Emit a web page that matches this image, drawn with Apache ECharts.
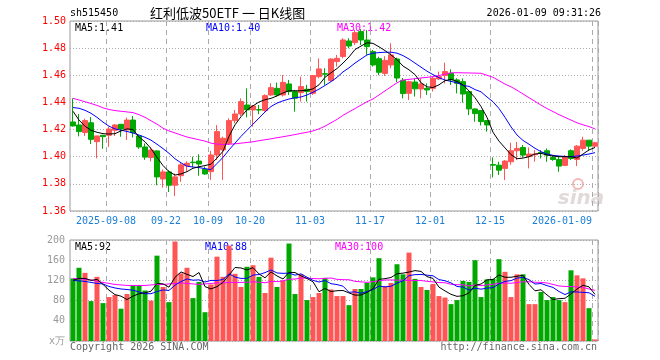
<!DOCTYPE html>
<html><head><meta charset="utf-8">
<script src="https://cdn.jsdelivr.net/npm/echarts@6/dist/echarts.min.js"></script>
<style>html,body{margin:0;padding:0;background:#fff}#c{width:660px;height:360px}</style>
</head><body><div id="c"></div>
<script>
const dates = [
'2025-08-29',
'2025-09-01','2025-09-02','2025-09-03','2025-09-04','2025-09-05',
'2025-09-08','2025-09-09','2025-09-10','2025-09-11','2025-09-12',
'2025-09-15','2025-09-16','2025-09-17','2025-09-18','2025-09-19',
'2025-09-22','2025-09-23','2025-09-24','2025-09-25','2025-09-26',
'2025-09-29','2025-09-30',
'2025-10-09','2025-10-10',
'2025-10-13','2025-10-14','2025-10-15','2025-10-16','2025-10-17',
'2025-10-20','2025-10-21','2025-10-22','2025-10-23','2025-10-24',
'2025-10-27','2025-10-28','2025-10-29','2025-10-30','2025-10-31',
'2025-11-03','2025-11-04','2025-11-05','2025-11-06','2025-11-07',
'2025-11-10','2025-11-11','2025-11-12','2025-11-13','2025-11-14',
'2025-11-17','2025-11-18','2025-11-19','2025-11-20','2025-11-21',
'2025-11-24','2025-11-25','2025-11-26','2025-11-27','2025-11-28',
'2025-12-01','2025-12-02','2025-12-03','2025-12-04','2025-12-05',
'2025-12-08','2025-12-09','2025-12-10','2025-12-11','2025-12-12',
'2025-12-15','2025-12-16','2025-12-17','2025-12-18','2025-12-19',
'2025-12-22','2025-12-23','2025-12-24','2025-12-25','2025-12-26',
'2025-12-29','2025-12-30','2025-12-31',
'2026-01-05','2026-01-06','2026-01-07','2026-01-08','2026-01-09'];

const tickDates = ['2025-09-08','2025-09-22','2025-10-09','2025-10-20','2025-11-03','2025-11-17','2025-12-01','2025-12-15','2026-01-09'];
const tickTexts = ['2025-09-08','09-22','10-09','10-20','11-03','11-17','12-01','12-15','2026-01-09'];

const opens = [1.4256,1.4234,1.4178,1.4250,1.4111,1.4158,1.4158,1.4195,1.4239,1.4197,
1.4270,1.4153,1.4072,1.3994,1.4043,1.3836,1.3888,1.3790,1.3860,1.3933,
1.3960,1.3968,1.3907,1.3890,1.4013,1.4050,1.4099,1.4266,1.4315,1.4381,
1.4345,1.4347,1.4340,1.4455,1.4504,1.4455,1.4536,1.4480,1.4472,1.4497,
1.4467,1.4590,1.4612,1.4561,1.4701,1.4738,1.4853,1.4841,1.4922,1.4860,
1.4774,1.4722,1.4614,1.4676,1.4720,1.4563,1.4467,1.4550,1.4499,1.4504,
1.4504,1.4573,1.4598,1.4615,1.4566,1.4553,1.4480,1.4352,1.4340,1.4266,
1.3942,1.3938,1.3914,1.3963,1.4044,1.4068,1.4000,1.4015,1.4031,1.4044,
1.3995,1.3980,1.3936,1.4044,1.3980,1.4061,1.4122,1.4078];
const closes = [1.4227,1.4185,1.4266,1.4128,1.4153,1.4148,1.4204,1.4234,1.4204,1.4270,
1.4177,1.4072,1.3997,1.4049,1.3851,1.3888,1.3790,1.3851,1.3940,1.3952,
1.3956,1.3946,1.3873,1.4013,1.4185,1.4136,1.4266,1.4315,1.4406,1.4345,
1.4374,1.4344,1.4450,1.4509,1.4455,1.4548,1.4480,1.4431,1.4517,1.4480,
1.4598,1.4647,1.4608,1.4720,1.4725,1.4860,1.4816,1.4914,1.4860,1.4811,
1.4676,1.4622,1.4710,1.4750,1.4580,1.4465,1.4553,1.4500,1.4536,1.4492,
1.4578,1.4590,1.4627,1.4566,1.4541,1.4462,1.4352,1.4318,1.4259,1.4234,
1.3938,1.3901,1.3968,1.4044,1.4061,1.4012,1.4020,1.4020,1.4027,1.4012,
1.3980,1.3931,1.3999,1.3987,1.4078,1.4122,1.4078,1.4103];
const lows = [1.4222,1.4150,1.4153,1.4094,1.3988,1.4058,1.4072,1.4152,1.4147,1.4123,
1.4142,1.4058,1.3977,1.3966,1.3790,1.3773,1.3740,1.3710,1.3815,1.3890,
1.3922,1.3860,1.3866,1.3829,1.3976,1.3829,1.4087,1.4246,1.4300,1.4290,
1.4222,1.4313,1.4332,1.4448,1.4443,1.4443,1.4455,1.4332,1.4406,1.4406,
1.4455,1.4578,1.4529,1.4553,1.4664,1.4725,1.4799,1.4823,1.4823,1.4750,
1.4664,1.4600,1.4595,1.4652,1.4550,1.4430,1.4418,1.4443,1.4430,1.4455,
1.4480,1.4565,1.4540,1.4529,1.4467,1.4399,1.4307,1.4258,1.4230,1.4185,
1.3847,1.3865,1.3828,1.3941,1.3975,1.3995,1.3914,1.3963,1.3987,1.3963,
1.3970,1.3889,1.3931,1.3975,1.3931,1.4044,1.4044,1.4068];
const highs = [1.4430,1.4315,1.4280,1.4292,1.4155,1.4160,1.4222,1.4240,1.4240,1.4288,
1.4300,1.4158,1.4098,1.4072,1.4046,1.3905,1.3900,1.3876,1.3952,1.3966,
1.4000,1.4018,1.3927,1.4043,1.4233,1.4148,1.4283,1.4345,1.4430,1.4504,
1.4381,1.4381,1.4460,1.4541,1.4546,1.4602,1.4566,1.4492,1.4590,1.4529,
1.4600,1.4725,1.4652,1.4725,1.4750,1.4873,1.4873,1.4934,1.4940,1.4934,
1.4787,1.4737,1.4740,1.4836,1.4730,1.4580,1.4560,1.4577,1.4578,1.4540,
1.4590,1.4627,1.4693,1.4644,1.4578,1.4577,1.4480,1.4356,1.4344,1.4266,
1.3995,1.3963,1.3975,1.4103,1.4110,1.4086,1.4068,1.4049,1.4049,1.4061,
1.4012,1.4000,1.4012,1.4054,1.4086,1.4147,1.4122,1.4110];

const ma5 = [1.4335,1.4270,1.4225,1.4195,1.4180,1.4170,1.4167,1.4170,1.4190,1.4205,
1.4200,1.4145,1.4110,1.4060,1.3995,1.3935,1.3890,1.3865,1.3873,1.3890,
1.3915,1.3926,1.3935,1.3945,1.3990,1.4040,1.4150,1.4235,1.4295,1.4345,
1.4375,1.4403,1.4420,1.4430,1.4448,1.4470,1.4486,1.4486,1.4486,1.4490,
1.4500,1.4530,1.4585,1.4618,1.4650,1.4690,1.4735,1.4790,1.4815,1.4840,
1.4835,1.4810,1.4782,1.4750,1.4715,1.4668,1.4640,1.4605,1.4545,1.4515,
1.4510,1.4530,1.4560,1.4570,1.4555,1.4530,1.4485,1.4435,1.4370,1.4290,
1.4180,1.4115,1.4065,1.4015,1.3985,1.3990,1.4000,1.4020,1.4025,1.4013,
1.4005,1.4000,1.4000,1.4000,1.3990,1.4020,1.4050,1.4068];
const ma10 = [1.4362,1.4357,1.4342,1.4320,1.4290,1.4255,1.4225,1.4205,1.4195,1.4186,
1.4175,1.4160,1.4143,1.4122,1.4092,1.4060,1.4025,1.3985,1.3955,1.3930,
1.3924,1.3920,1.3912,1.3905,1.3950,1.3995,1.4050,1.4100,1.4150,1.4195,
1.4240,1.4285,1.4330,1.4370,1.4395,1.4412,1.4425,1.4435,1.4440,1.4455,
1.4475,1.4498,1.4525,1.4553,1.4585,1.4625,1.4655,1.4690,1.4720,1.4750,
1.4763,1.4767,1.4770,1.4770,1.4763,1.4745,1.4720,1.4690,1.4660,1.4630,
1.4605,1.4582,1.4565,1.4555,1.4545,1.4525,1.4518,1.4495,1.4478,1.4440,
1.4405,1.4355,1.4290,1.4220,1.4160,1.4120,1.4092,1.4062,1.4037,1.4020,
1.4010,1.4005,1.4002,1.4000,1.4005,1.4012,1.4020,1.4030];
const ma30 = [1.4430,1.4418,1.4405,1.4392,1.4378,1.4360,1.4348,1.4340,1.4335,1.4330,
1.4325,1.4310,1.4290,1.4265,1.4240,1.4210,1.4190,1.4175,1.4160,1.4145,
1.4135,1.4125,1.4115,1.4100,1.4093,1.4090,1.4092,1.4095,1.4100,1.4105,
1.4110,1.4118,1.4125,1.4132,1.4140,1.4147,1.4155,1.4163,1.4172,1.4180,
1.4190,1.4205,1.4225,1.4250,1.4275,1.4305,1.4330,1.4355,1.4380,1.4405,
1.4425,1.4455,1.4485,1.4515,1.4545,1.4565,1.4570,1.4575,1.4580,1.4585,
1.4590,1.4598,1.4608,1.4618,1.4619,1.4618,1.4617,1.4616,1.4615,1.4600,
1.4585,1.4560,1.4535,1.4515,1.4490,1.4462,1.4435,1.4408,1.4380,1.4355,
1.4333,1.4310,1.4290,1.4270,1.4250,1.4235,1.4222,1.4205];

const volumes = [124,145,135,79,127,75,87,91,64,93,
110,110,100,80,169,107,77,197,134,145,
85,117,57,112,167,127,189,133,107,147,
150,127,95,165,107,120,193,93,132,81,
87,95,125,102,89,89,71,103,103,115,
126,164,109,115,152,132,175,123,107,101,
113,89,86,73,81,119,117,160,87,122,
123,162,137,87,132,132,73,73,97,81,
87,81,77,140,130,124,65,3];
const vma5 = [120,124,124,120,122,112.2,100.6,91.8,88.8,82,
89,93.6,95.4,98.6,113.8,113.2,106.6,126,136.8,132,
127.6,135.6,107.6,103.2,107.6,116,130.4,145.6,144.6,140.6,
145.2,132.8,125.2,136.8,128.8,122.8,136,135.6,129,123.8,
117.2,97.6,104,98,99.6,100,95.2,90.8,91,96.2,
103.6,122.2,123.4,125.8,133.2,134.4,136.6,139.4,137.8,127.6,
123.8,106.6,99.2,92.4,88.4,89.6,95.2,110,112.8,121,
121.8,130.8,126.2,126.2,128.2,130,112.2,99.4,101.4,91.2,
82.2,83.8,84.6,93.2,103,110.4,107.2,92.4];
const vma10 = [120,119,118,116,114,113,108,105,103,102,
100.6,97.1,93.6,93.7,97.9,101.1,100.1,110.7,117.7,122.9,
120.4,121.1,116.8,120,119.8,121.8,133,126.6,123.9,124.1,
130.6,131.6,135.4,140.7,134.7,134,134.4,130.4,132.9,126.3,
120,116.8,119.8,113.5,111.7,108.6,96.4,97.4,94.5,97.9,
101.8,108.7,107.1,108.4,114.7,119,129.4,131.4,131.8,130.4,
129.1,121.6,119.3,115.1,108,106.7,100.9,104.6,102.6,104.7,
105.7,113,118.1,119.5,124.6,125.9,121.5,112.8,113.8,109.7,
106.1,98,92,97.3,97.1,96.3,95.5,88.5];
const vma30 = [124,123,122,121,118,116,114,112,111,110,
110,110,110,111,112,112,113,114,115,114,
113,112,113,114,115,115,116,116,116,116.3,
117.2,116.6,115.3,118.1,117.5,119.0,122.5,122.6,124.8,124.4,
123.7,123.2,124,124.7,122.1,121.5,121.3,118.1,117.1,116.1,
117.5,119.0,120.8,120.9,120.4,120.5,120.1,119.7,119.7,118.2,
117.0,115.7,115.4,112.3,111.5,111.4,108.9,111.1,109.6,111,
112.2,114.4,114.8,114.3,115.8,117.2,117.3,116.3,116.1,114.9,
112,109,108,108,107,106,103,100.4];

const RED = '#ff5555', GREEN = '#00a800';
const MONO = '"DejaVu Sans Mono", "Liberation Mono", monospace';
const CJK = '"Noto Sans CJK SC", sans-serif';
const GRIDC = '#aaaaaa';
const last = dates.length - 1;

const chart = echarts.init(document.getElementById('c'), null, {renderer: 'canvas'});
const isTick = (i) => tickDates.indexOf(dates[i]) >= 0;

const catAxis = (gi, showLabel) => ({
  type: 'category', gridIndex: gi, data: dates, boundaryGap: true,
  axisLine: {show: false}, axisTick: {show: false},
  axisLabel: showLabel ? {
    show: true, interval: 0, margin: 5, color: '#1c7fd6', fontFamily: MONO, fontSize: 10,
    formatter: (v, idx) => {
      const k = tickDates.indexOf(v);
      if (k < 0) return '';
      return (idx === last ? '{e|' : '{c|') + tickTexts[k] + '}';
    },
    rich: {
      c: {padding: [0, 6, 0, 0], color: '#1c7fd6', fontFamily: MONO, fontSize: 10},
      e: {padding: [0, 66, 0, 0], color: '#1c7fd6', fontFamily: MONO, fontSize: 10}
    }
  } : {show: false},
  splitLine: {show: true, interval: (i) => isTick(i), lineStyle: {color: GRIDC, type: [5, 4], width: 1}}
});

const txt = (text, x, y, color, align, font) => ({
  type: 'text', x: x, y: y, silent: true,
  style: {text: text, fill: color, font: font || ('10px ' + MONO), align: align || 'left', verticalAlign: 'middle',
          textAlign: align || 'left', textVerticalAlign: 'middle'}
});

const option = {
  animation: false,
  backgroundColor: '#fff',
  grid: [
    {left: 70, top: 21, width: 528, height: 190, show: true, borderColor: '#999', borderWidth: 1, backgroundColor: 'transparent', outerBoundsMode: 'none', containLabel: false},
    {left: 70, top: 240, width: 528, height: 101, show: true, borderColor: '#999', borderWidth: 1, backgroundColor: 'transparent', outerBoundsMode: 'none', containLabel: false}
  ],
  xAxis: [catAxis(0, true), catAxis(1, false)],
  yAxis: [
    {type: 'value', gridIndex: 0, min: 1.36, max: 1.50, interval: 0.02, scale: true,
     axisLine: {show: false}, axisTick: {show: false},
     axisLabel: {color: '#ff0000', fontFamily: MONO, fontSize: 10, margin: 4, formatter: (v) => v.toFixed(2)},
     splitLine: {show: true, lineStyle: {color: GRIDC, type: [1, 2], width: 1}}},
    {type: 'value', gridIndex: 1, min: 0, max: 200, interval: 40,
     axisLine: {show: false}, axisTick: {show: false},
     axisLabel: {color: '#999999', fontFamily: MONO, fontSize: 10, margin: 5,
                 formatter: (v) => v === 0 ? 'x万' : String(v)},
     splitLine: {show: true, lineStyle: {color: GRIDC, type: [1, 2], width: 1}}}
  ],
  series: [
    {type: 'candlestick', xAxisIndex: 0, yAxisIndex: 0, barWidth: 5,
     data: dates.map((d, i) => [opens[i], closes[i], lows[i], highs[i]]),
     itemStyle: {color: RED, color0: GREEN, borderColor: RED, borderColor0: GREEN, borderWidth: 1}},
    {type: 'line', xAxisIndex: 0, yAxisIndex: 0, data: ma30, symbol: 'none', showSymbol: false, lineStyle: {color: '#ff00ff', width: 1}, itemStyle: {color: '#ff00ff'}},
    {type: 'line', xAxisIndex: 0, yAxisIndex: 0, data: ma10, symbol: 'none', showSymbol: false, lineStyle: {color: '#0000ff', width: 1}, itemStyle: {color: '#0000ff'}},
    {type: 'line', xAxisIndex: 0, yAxisIndex: 0, data: ma5, symbol: 'none', showSymbol: false, lineStyle: {color: '#000000', width: 1}, itemStyle: {color: '#000000'}},
    {type: 'bar', xAxisIndex: 1, yAxisIndex: 1, barWidth: 5,
     data: volumes.map((v, i) => ({value: v, itemStyle: {color: closes[i] >= opens[i] ? RED : GREEN}}))},
    {type: 'line', xAxisIndex: 1, yAxisIndex: 1, data: vma30, symbol: 'none', showSymbol: false, lineStyle: {color: '#ff00ff', width: 1}, itemStyle: {color: '#ff00ff'}},
    {type: 'line', xAxisIndex: 1, yAxisIndex: 1, data: vma10, symbol: 'none', showSymbol: false, lineStyle: {color: '#0000ff', width: 1}, itemStyle: {color: '#0000ff'}},
    {type: 'line', xAxisIndex: 1, yAxisIndex: 1, data: vma5, symbol: 'none', showSymbol: false, lineStyle: {color: '#000000', width: 1}, itemStyle: {color: '#000000'}}
  ],
  graphic: [
    txt('sh515450', 70, 13, '#000'),
    txt('红利低波50ETF 一 日K线图', 150, 13, '#000', 'left', '13px ' + CJK),
    txt('2026-01-09 09:31:26', 601, 13, '#000', 'right'),
    txt('MA5:' + ma5[last].toFixed(2), 75, 28, '#000'),
    txt('MA10:' + ma10[last].toFixed(2), 206, 28, '#0000ff'),
    txt('MA30:' + ma30[last].toFixed(2), 337, 28, '#ff00ff'),
    txt('MA5:' + Math.floor(vma5[last]), 75, 247, '#000'),
    txt('MA10:' + Math.floor(vma10[last]), 205, 247, '#0000ff'),
    txt('MA30:' + Math.floor(vma30[last]), 335, 247, '#ff00ff'),
    txt('Copyright 2026 SINA.COM', 70, 347, '#666'),
    txt('http://finance.sina.com.cn', 597, 347, '#666', 'right'),
    {type: 'circle', silent: true, shape: {cx: 578, cy: 184, r: 5}, style: {fill: 'none', stroke: '#f3b8b8', lineWidth: 2}},
    txt('sina', 581, 199, '#e0dada', 'center', 'italic bold 20px "DejaVu Sans", sans-serif')
  ]
};
chart.setOption(option);
</script>
</body></html>
